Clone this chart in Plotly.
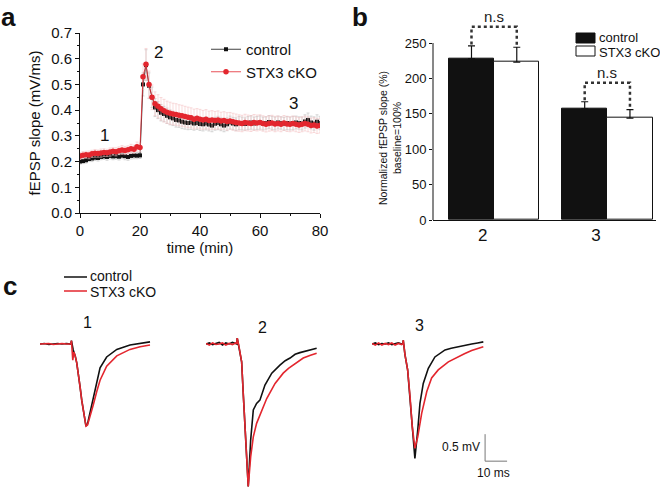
import plotly.graph_objects as go

# ---------------- Panel a data (fEPSP slope, mV/ms) ----------------
TIME_MIN = list(range(0, 81))
CTRL_SLOPE = [
    0.200, 0.202, 0.205, 0.210, 0.212, 0.215, 0.214, 0.218, 0.220, 0.218,
    0.222, 0.220, 0.221, 0.219, 0.223, 0.221, 0.218, 0.222, 0.224, 0.223,
    0.224, 0.500, 0.575, 0.495, 0.450, 0.410, 0.400, 0.390, 0.385, 0.378,
    0.372, 0.368, 0.362, 0.360, 0.355, 0.352, 0.350, 0.352, 0.348, 0.350,
    0.346, 0.345, 0.348, 0.344, 0.340, 0.347, 0.350, 0.345, 0.340, 0.345,
    0.352, 0.348, 0.345, 0.350, 0.348, 0.346, 0.350, 0.352, 0.348, 0.350,
    0.352, 0.348, 0.350, 0.354, 0.350, 0.348, 0.352, 0.350, 0.347, 0.350,
    0.348, 0.350, 0.352, 0.350, 0.348, 0.356, 0.362, 0.352, 0.348, 0.355,
    0.350]
CTRL_ERR = [
    0.010, 0.010, 0.011, 0.010, 0.012, 0.011, 0.012, 0.011, 0.012, 0.013,
    0.012, 0.013, 0.012, 0.013, 0.012, 0.014, 0.013, 0.012, 0.013, 0.012,
    0.012, 0.045, 0.060, 0.050, 0.040, 0.035, 0.033, 0.032, 0.030, 0.030,
    0.029, 0.028, 0.028, 0.027, 0.027, 0.026, 0.026, 0.027, 0.026, 0.025,
    0.025, 0.026, 0.025, 0.025, 0.024, 0.025, 0.026, 0.025, 0.024, 0.025,
    0.025, 0.024, 0.025, 0.026, 0.025, 0.024, 0.025, 0.026, 0.025, 0.025,
    0.026, 0.025, 0.024, 0.025, 0.026, 0.025, 0.025, 0.024, 0.025, 0.026,
    0.025, 0.026, 0.025, 0.024, 0.025, 0.026, 0.027, 0.025, 0.026, 0.027,
    0.026]
STX_SLOPE = [
    0.222, 0.225, 0.227, 0.226, 0.230, 0.232, 0.231, 0.233, 0.235, 0.234,
    0.237, 0.240, 0.238, 0.242, 0.245, 0.243, 0.246, 0.250, 0.248, 0.258,
    0.255, 0.530, 0.578, 0.500, 0.450, 0.425, 0.415, 0.405, 0.398, 0.392,
    0.388, 0.385, 0.383, 0.380, 0.378, 0.375, 0.372, 0.370, 0.365, 0.368,
    0.365, 0.362, 0.365, 0.360, 0.362, 0.360, 0.362, 0.358, 0.360, 0.356,
    0.358, 0.355, 0.352, 0.350, 0.348, 0.352, 0.350, 0.348, 0.352, 0.350,
    0.352, 0.348, 0.345, 0.348, 0.350, 0.346, 0.348, 0.345, 0.350, 0.346,
    0.345, 0.348, 0.345, 0.342, 0.345, 0.348, 0.345, 0.340, 0.342, 0.338,
    0.340]
STX_ERR = [
    0.013, 0.014, 0.013, 0.015, 0.014, 0.015, 0.014, 0.016, 0.015, 0.014,
    0.016, 0.015, 0.016, 0.015, 0.017, 0.016, 0.015, 0.017, 0.016, 0.018,
    0.017, 0.050, 0.062, 0.052, 0.048, 0.046, 0.045, 0.044, 0.044, 0.043,
    0.043, 0.042, 0.042, 0.041, 0.041, 0.040, 0.040, 0.039, 0.039, 0.038,
    0.038, 0.037, 0.037, 0.036, 0.036, 0.035, 0.035, 0.034, 0.034, 0.034,
    0.033, 0.033, 0.033, 0.032, 0.032, 0.032, 0.031, 0.031, 0.031, 0.031,
    0.030, 0.030, 0.030, 0.030, 0.030, 0.030, 0.029, 0.029, 0.029, 0.029,
    0.029, 0.029, 0.029, 0.029, 0.029, 0.029, 0.029, 0.029, 0.029, 0.029,
    0.029]
PHASE_LABELS = ["1", "2", "3"]
PHASE_T = [8, 26.3, 71]
PHASE_V = [0.30, 0.625, 0.425]

# ---------------- Panel b data (normalized slope, %) ----------------
B_CATS = ["2", "3"]
B_POS = [0, 1]
CTRL_B = [228, 157]
CTRL_B_ERR = [18, 10]
STX_B = [223, 144]
STX_B_ERR = [21, 12]
NS_HEIGHT = [273, 194]

# ---------------- Panel c data (example traces, ms / mV) ----------------
T1_CTRL_T = [0, 2, 4, 6, 8, 10, 12, 14.0, 14.3, 15.1, 16.0, 16.7, 17.5, 18.2, 19.0, 19.7, 20.3, 20.9, 21.6,
             22.7, 24.2, 25.8, 27.3, 30.3, 34.9, 40.9, 45.5, 50.0]
T1_CTRL_V = [0, 0.01, -0.01, 0.0, 0.01, 0.0, 0.01, 0.0, 0.06, -0.11, -0.22, -0.35, -0.55, -0.79, -1.05, -1.25,
             -1.42, -1.52, -1.48, -1.28, -0.98, -0.67, -0.44, -0.24, -0.10, -0.02, 0.01, 0.04]
T1_STX_T = [0, 2, 4, 6, 8, 10, 12, 14.0, 14.3, 14.9, 15.4, 16.0, 16.7, 17.5, 18.2, 19.0, 19.7, 20.3, 20.9, 21.6,
            22.7, 24.2, 25.8, 27.3, 30.3, 34.9, 40.9, 45.5, 50.0]
T1_STX_V = [0, 0.0, 0.01, -0.01, 0.0, 0.01, 0.0, 0.0, 0.06, -0.30, -0.15, -0.22, -0.35, -0.55, -0.79, -1.05,
            -1.25, -1.42, -1.52, -1.50, -1.36, -1.13, -0.88, -0.67, -0.41, -0.22, -0.10, -0.05, -0.02]

T2_CTRL_T = [0, 1.5, 3, 4.5, 6, 7.5, 9, 10.5, 12, 13.5, 14.0, 14.2, 15.0, 15.5, 16.2, 17.0, 18.0, 19.2, 20.3,
             21.5, 23.0, 24.5, 26.8, 29.9, 33.6, 36.0, 38.2, 40.5, 42.7, 45.5, 48.8, 50.3]
T2_CTRL_V = [0, 0.02, -0.01, 0.01, 0.03, -0.02, 0.02, 0.0, 0.03, 0.01, 0.0, 0.11, -0.05, -0.17, -0.33, -0.97,
             -1.83, -2.64, -1.78, -1.22, -1.10, -1.04, -0.76, -0.54, -0.39, -0.31, -0.26, -0.19, -0.16, -0.13,
             -0.10, -0.08]
T2_STX_T = [0, 1.5, 3, 4.5, 6, 7.5, 9, 10.5, 12, 13.5, 14.0, 14.2, 15.0, 15.5, 16.2, 17.0, 18.0, 19.2, 20.3,
            21.5, 23.0, 25.3, 27.6, 31.4, 35.1, 37.5, 39.7, 42.0, 44.2, 47.5, 50.3]
T2_STX_V = [0.01, -0.02, 0.02, -0.01, 0.0, 0.02, -0.02, 0.01, -0.01, 0.02, 0.0, 0.11, -0.05, -0.17, -0.33,
            -0.97, -1.83, -2.64, -2.09, -1.72, -1.47, -1.25, -1.01, -0.73, -0.54, -0.45, -0.39, -0.32, -0.26,
            -0.21, -0.17]

T3_CTRL_T = [0, 1.5, 3, 4.5, 6, 7.5, 9, 10.5, 12, 13.5, 14.0, 14.2, 15.0, 16.2, 17.3, 18.3, 19.5, 20.8, 21.8,
             23.3, 25.6, 28.6, 33.2, 36.0, 39.2, 42.0, 45.3, 48.0, 50.6]
T3_CTRL_V = [0, 0.02, -0.01, 0.01, 0.0, 0.02, -0.01, 0.01, 0.02, 0.0, 0.0, 0.07, -0.20, -0.48, -0.98, -1.53,
             -2.12, -1.59, -1.10, -0.73, -0.45, -0.24, -0.11, -0.08, -0.05, -0.02, 0.0, 0.02, 0.04]
T3_STX_T = [0, 1.5, 3, 4.5, 6, 7.5, 9, 10.5, 12, 13.5, 14.0, 14.2, 15.0, 16.2, 17.3, 18.3, 19.5, 20.8, 22.6,
            24.9, 27.1, 30.1, 34.7, 37.0, 39.2, 42.0, 45.3, 48.0, 50.6]
T3_STX_V = [0.01, -0.02, 0.02, -0.02, 0.01, -0.01, 0.02, -0.02, 0.01, -0.01, 0.0, 0.07, -0.20, -0.48, -0.98,
            -1.53, -1.93, -1.72, -1.28, -0.88, -0.63, -0.48, -0.33, -0.28, -0.24, -0.18, -0.12, -0.09, -0.05]

TRACE_LABELS = ["1", "2", "3"]
SCALE_MV = 0.5
SCALE_MS = 10

# ---------------- styling ----------------
BLACK = "#111111"
RED = "#e3262e"
FONT = "Liberation Sans, Arial, Helvetica, sans-serif"
W, H = 660, 495


def px(x):
    return x / W


def py(y):
    return 1 - y / H


fig = go.Figure()

# Panel a
fig.add_trace(go.Scatter(
    x=TIME_MIN, y=CTRL_SLOPE, name="control", mode="lines+markers",
    line=dict(color=BLACK, width=0.8),
    marker=dict(symbol="square", size=4, color=BLACK),
    error_y=dict(type="data", array=CTRL_ERR, color="#bdbdbd", thickness=0.6, width=1.5),
    xaxis="x", yaxis="y", legend="legend"))
fig.add_trace(go.Scatter(
    x=TIME_MIN, y=STX_SLOPE, name="STX3 cKO", mode="lines+markers",
    line=dict(color=RED, width=0.8),
    marker=dict(symbol="circle", size=5.5, color=RED),
    error_y=dict(type="data", array=STX_ERR, color="#f5c2c4", thickness=0.6, width=1.5),
    xaxis="x", yaxis="y", legend="legend"))

# Panel b bars
fig.add_trace(go.Bar(
    x=B_POS, y=CTRL_B, width=0.4, offset=-0.3, marker=dict(color=BLACK, line=dict(color=BLACK, width=1)),
    error_y=dict(type="data", array=CTRL_B_ERR, arrayminus=[0, 0], color=BLACK, thickness=1.2, width=3.5),
    xaxis="x2", yaxis="y2", showlegend=False, name="control"))
fig.add_trace(go.Bar(
    x=B_POS, y=STX_B, width=0.4, offset=0.1, marker=dict(color="white", line=dict(color=BLACK, width=1)),
    error_y=dict(type="data", array=STX_B_ERR, arrayminus=[0, 0], color=BLACK, thickness=1.2, width=3.5),
    xaxis="x2", yaxis="y2", showlegend=False, name="STX3 cKO"))

# n.s brackets
for i, pos in enumerate(B_POS):
    xc = pos - 0.1
    xs = pos + 0.3
    fig.add_trace(go.Scatter(
        x=[xc, xc, xs, xs],
        y=[CTRL_B[i] + CTRL_B_ERR[i] + 2, NS_HEIGHT[i], NS_HEIGHT[i], STX_B[i] + STX_B_ERR[i] + 2],
        mode="lines", line=dict(color="#333333", width=2.5, dash="dot"),
        xaxis="x2", yaxis="y2", showlegend=False, hoverinfo="skip"))
    fig.add_annotation(x=(xc + xs) / 2, y=NS_HEIGHT[i] + 14, xref="x2", yref="y2", text="n.s",
                       showarrow=False, font=dict(size=15, family=FONT, color="#222222"))

# Panel c traces
trace_sets = [
    (T1_CTRL_T, T1_CTRL_V, T1_STX_T, T1_STX_V, "x3", "y3"),
    (T2_CTRL_T, T2_CTRL_V, T2_STX_T, T2_STX_V, "x4", "y4"),
    (T3_CTRL_T, T3_CTRL_V, T3_STX_T, T3_STX_V, "x5", "y5"),
]
for ct, cv, st, sv, xa, ya in trace_sets:
    fig.add_trace(go.Scatter(x=ct, y=cv, mode="lines", line=dict(color=BLACK, width=1.6),
                             xaxis=xa, yaxis=ya, showlegend=False, hoverinfo="skip"))
    fig.add_trace(go.Scatter(x=st, y=sv, mode="lines", line=dict(color=RED, width=1.6),
                             xaxis=xa, yaxis=ya, showlegend=False, hoverinfo="skip"))

# scale bar in trace-3 axes
SB_X0, SB_Y0 = 51.4, -2.17
fig.add_trace(go.Scatter(x=[SB_X0, SB_X0, SB_X0 + SCALE_MS], y=[SB_Y0 + SCALE_MV, SB_Y0, SB_Y0],
                         mode="lines", line=dict(color="#777777", width=1),
                         xaxis="x5", yaxis="y5", showlegend=False, hoverinfo="skip"))
fig.add_annotation(x=SB_X0 - 1.5, y=SB_Y0 + 0.26, xref="x5", yref="y5", text=f"{SCALE_MV} mV",
                   xanchor="right", showarrow=False, font=dict(size=12, family=FONT))
fig.add_annotation(x=SB_X0 + SCALE_MS / 2 - 1, y=SB_Y0 - 0.22, xref="x5", yref="y5", text=f"{SCALE_MS} ms",
                   showarrow=False, font=dict(size=12, family=FONT))

# trace number labels
for lab, xa, ya, tx, ty in zip(TRACE_LABELS, ["x3", "x4", "x5"], ["y3", "y4", "y5"],
                               [21.4, 25.5, 21.8], [0.39, 0.30, 0.35]):
    fig.add_annotation(x=tx, y=ty, xref=xa, yref=ya, text=lab, showarrow=False,
                       font=dict(size=16, family=FONT))

# panel a phase labels
for lab, tx, ty in zip(PHASE_LABELS, PHASE_T, PHASE_V):
    fig.add_annotation(x=tx, y=ty, xref="x", yref="y", text=lab, showarrow=False,
                       font=dict(size=17, family=FONT))

# panel letters
for lab, x, y, ya in [("a", 8, 0, "top"), ("b", 360, 0, "top"), ("c", 10, 286, "middle")]:
    fig.add_annotation(x=px(x), y=py(y), xref="paper", yref="paper", text=f"<b>{lab}</b>",
                       xanchor="center", yanchor=ya,
                       showarrow=False, font=dict(size=26, family=FONT))

# panel b y-axis title
fig.add_annotation(x=px(390), y=py(138), xref="paper", yref="paper",
                   text="Normalized fEPSP slope (%)<br>baseline=100%", textangle=-90,
                   xanchor="center", yanchor="middle",
                   showarrow=False, font=dict(size=10.5, family=FONT))

shapes = []
# panel b y axis line (0-250)
shapes.append(dict(type="line", xref="paper", yref="y2", x0=px(433), x1=px(433), y0=0, y1=250,
                   line=dict(color=BLACK, width=1)))
# panel b legend swatches
shapes.append(dict(type="rect", xref="paper", yref="paper", x0=px(576), x1=px(595), y0=py(43), y1=py(33),
                   fillcolor=BLACK, line=dict(color=BLACK, width=1)))
shapes.append(dict(type="rect", xref="paper", yref="paper", x0=px(576), x1=px(595), y0=py(56), y1=py(46),
                   fillcolor="white", line=dict(color=BLACK, width=1)))
# panel c legend lines
shapes.append(dict(type="line", xref="paper", yref="paper", x0=px(64), x1=px(87), y0=py(277), y1=py(277),
                   line=dict(color=BLACK, width=1.5)))
shapes.append(dict(type="line", xref="paper", yref="paper", x0=px(64), x1=px(87), y0=py(291), y1=py(291),
                   line=dict(color=RED, width=1.5)))

for txt, x, y, size in [("control", 597, 37, 13), ("STX3 cKO", 597, 52, 13),
                        ("control", 88, 276, 14), ("STX3 cKO", 88, 292, 14)]:
    fig.add_annotation(x=px(x), y=py(y), xref="paper", yref="paper", text=txt, xanchor="left",
                       yanchor="middle", showarrow=False, font=dict(size=size, family=FONT))

axis_common = dict(showline=True, linecolor=BLACK, linewidth=1, showgrid=False, zeroline=False,
                   ticks="outside", tickcolor=BLACK, automargin=False)

c_hidden = dict(visible=False, showgrid=False, zeroline=False, fixedrange=True)
C_YRANGE = [-2.704, 0.815]
C_XRANGE = [0, 64]
c_ydom = [py(490), py(300)]

fig.update_layout(
    width=W, height=H, margin=dict(l=0, r=0, t=0, b=0),
    plot_bgcolor="white", paper_bgcolor="white",
    font=dict(family=FONT, color=BLACK),
    bargap=0,
    shapes=shapes,
    legend=dict(x=px(206), y=py(33), xanchor="left", yanchor="top", bgcolor="rgba(0,0,0,0)",
                font=dict(size=15, family=FONT), itemwidth=30, tracegroupgap=0),
    xaxis=dict(domain=[px(80), px(320)], range=[0, 80], anchor="y", dtick=20, ticklen=4,
               minor=dict(dtick=10, ticklen=2, ticks="outside", tickcolor=BLACK),
               tickfont=dict(size=15), title=dict(text="time (min)", font=dict(size=15), standoff=4),
               **axis_common),
    yaxis=dict(domain=[py(213), py(33)], range=[0, 0.7], anchor="x", dtick=0.1, tickformat=".1f", ticklen=4,
               minor=dict(dtick=0.05, ticklen=2, ticks="outside", tickcolor=BLACK),
               tickfont=dict(size=15), title=dict(text="fEPSP slope (mV/ms)", font=dict(size=15), standoff=6),
               **axis_common),
    xaxis2=dict(domain=[px(433), px(656)], range=[-0.44, 1.53], anchor="y2", tickvals=B_POS, ticktext=B_CATS,
                showline=True, linecolor=BLACK, linewidth=1, showgrid=False, zeroline=False, ticks="",
                tickfont=dict(size=17), automargin=False),
    yaxis2=dict(domain=[py(220), py(220 - 290 * 0.708)], range=[0, 290], anchor="x2", dtick=50, ticklen=3,
                showline=False, showgrid=False, zeroline=False, ticks="outside", tickcolor=BLACK,
                tickfont=dict(size=13), automargin=False),
    xaxis3=dict(domain=[px(40), px(40 + 64 * 2.2)], range=C_XRANGE, anchor="y3", **c_hidden),
    yaxis3=dict(domain=c_ydom, range=C_YRANGE, anchor="x3", **c_hidden),
    xaxis4=dict(domain=[px(206), px(206 + 64 * 2.2)], range=C_XRANGE, anchor="y4", **c_hidden),
    yaxis4=dict(domain=c_ydom, range=C_YRANGE, anchor="x4", **c_hidden),
    xaxis5=dict(domain=[px(372), px(372 + 64 * 2.2)], range=C_XRANGE, anchor="y5", **c_hidden),
    yaxis5=dict(domain=c_ydom, range=C_YRANGE, anchor="x5", **c_hidden),
)

fig.write_html("out.html", config={"displayModeBar": False},
               post_script="document.body.style.margin='0';document.body.style.padding='0';")
